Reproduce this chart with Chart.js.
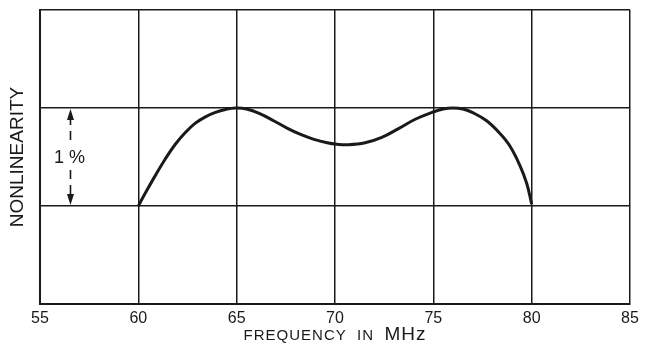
<!DOCTYPE html>
<html>
<head>
<meta charset="utf-8">
<script src="https://cdn.jsdelivr.net/npm/chart.js@4/dist/chart.umd.min.js"></script>
<style>
  html, body { margin: 0; padding: 0; background: #fff; }
  #wrap { width: 646px; height: 346px; }
</style>
</head>
<body>
<div id="wrap"><canvas id="c" width="646" height="346"></canvas></div>
<script>
// ============ DATA ============
const freqMHz = [60, 60.35, 60.86, 61.37, 61.88, 62.39, 62.9, 63.41, 63.92, 64.43, 64.95,
  65.5, 66.2, 66.88, 67.56, 68.25, 68.93, 69.6, 70.1, 70.68, 71.53, 72.38, 73.23, 74.08, 74.93,
  75.5, 76.0, 76.5, 77.03, 77.71, 78.39, 78.9, 79.41, 79.75, 80];
const nonlinearity = [1.0, 1.13, 1.31, 1.48, 1.63, 1.75, 1.845, 1.91, 1.955, 1.985, 2.0,
  1.99, 1.94, 1.87, 1.795, 1.73, 1.68, 1.645, 1.63, 1.625, 1.645, 1.7, 1.79, 1.885, 1.955,
  1.99, 2.0, 1.99, 1.95, 1.87, 1.74, 1.61, 1.41, 1.23, 1.02];
const xTicks = [55, 60, 65, 70, 75, 80, 85];
const yTicks = [0, 1, 2, 3];

const INK = '#1a1a1a';
const FONT = '"Liberation Sans", Arial, sans-serif';

// flecha "1%" y título del eje x (con MHz más grande)
const annot = {
  id: 'annot',
  afterDraw(chart) {
    const { ctx, scales: { x, y } } = chart;
    const ax = x.getPixelForValue(56.55);
    const yTop = y.getPixelForValue(2), yBot = y.getPixelForValue(1), yMid = y.getPixelForValue(1.5);
    ctx.save();
    ctx.strokeStyle = INK; ctx.fillStyle = INK; ctx.lineWidth = 1.6;
    ctx.setLineDash([9, 6]);
    ctx.beginPath();
    ctx.moveTo(ax, yTop + 8); ctx.lineTo(ax, yMid - 13);
    ctx.moveTo(ax, yMid + 13); ctx.lineTo(ax, yBot - 8);
    ctx.stroke();
    ctx.setLineDash([]);
    // puntas
    ctx.beginPath();
    ctx.moveTo(ax, yTop + 1); ctx.lineTo(ax - 3.5, yTop + 12); ctx.lineTo(ax + 3.5, yTop + 12); ctx.closePath();
    ctx.moveTo(ax, yBot - 1); ctx.lineTo(ax - 3.5, yBot - 12); ctx.lineTo(ax + 3.5, yBot - 12); ctx.closePath();
    ctx.fill();
    ctx.font = '18px ' + FONT;
    ctx.textAlign = 'center'; ctx.textBaseline = 'middle';
    ctx.fillText('1 %', ax - 1, yMid + 1);
    // título eje x
    const cx = (x.left + x.right) / 2, ty = 340;
    const a = 'FREQUENCY  IN  ', b = 'MHz';
    ctx.letterSpacing = '1px';
    ctx.font = '15px ' + FONT;
    const wa = ctx.measureText(a).width;
    ctx.font = '19px ' + FONT;
    const wb = ctx.measureText(b).width;
    const sx = cx - (wa + wb) / 2;
    ctx.textAlign = 'left'; ctx.textBaseline = 'alphabetic';
    ctx.font = '15px ' + FONT; ctx.fillText(a, sx, ty);
    ctx.font = '19px ' + FONT; ctx.fillText(b, sx + wa, ty);
    ctx.restore();
  }
};

new Chart(document.getElementById('c'), {
  type: 'line',
  data: {
    datasets: [{
      data: freqMHz.map((f, i) => ({ x: f, y: nonlinearity[i] })),
      borderColor: INK, borderWidth: 3, pointRadius: 0,
      tension: 0.4, fill: false,
    }],
  },
  options: {
    responsive: false, animation: false,
    layout: { padding: { top: 10, right: 16, left: 0, bottom: 0 } },
    plugins: { legend: { display: false }, tooltip: { enabled: false } },
    scales: {
      x: {
        type: 'linear', min: 55, max: 85,
        afterBuildTicks: s => { s.ticks = xTicks.map(v => ({ value: v })); },
        afterFit: s => { s.height = 42; },
        grid: { color: INK, lineWidth: 1.5, drawTicks: false },
        border: { color: INK, width: 2 },
        ticks: { color: INK, padding: 5, font: { family: FONT, size: 16 } },
      },
      y: {
        min: 0, max: 3,
        afterBuildTicks: s => { s.ticks = yTicks.map(v => ({ value: v })); },
        afterFit: s => { s.width = 40; },
        grid: { color: INK, lineWidth: 1.5, drawTicks: false },
        border: { color: INK, width: 2 },
        ticks: { display: false },
        title: { display: true, text: 'NONLINEARITY', color: INK, padding: { top: 6, bottom: 0 }, font: { family: FONT, size: 19 } },
      },
    },
  },
  plugins: [annot],
});
</script>
</body>
</html>
